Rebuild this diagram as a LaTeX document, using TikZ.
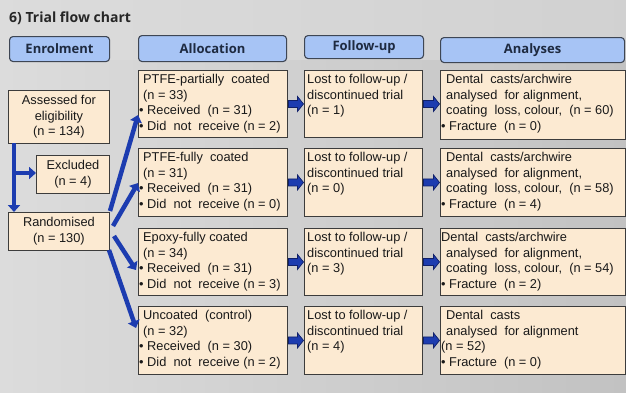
\documentclass[tikz,border=0pt]{standalone}
\usepackage{fontspec}
\setmainfont{Liberation Sans}
\newfontfamily\headfont{Open Sans}
\usetikzlibrary{arrows.meta,calc}
\definecolor{bgA}{HTML}{DCDCDC}
\definecolor{bgB}{HTML}{C2C2C2}
\definecolor{boxfill}{HTML}{FCEAD2}
\definecolor{boxline}{HTML}{3C3C3C}
\definecolor{headfill}{HTML}{A7C4F5}
\definecolor{headline}{HTML}{3E4654}
\definecolor{headtext}{HTML}{1E2A40}
\definecolor{arrblue}{HTML}{1C3CB0}
\definecolor{arrline}{HTML}{10206A}
\definecolor{titletext}{HTML}{262626}
\tikzset{
  hdr/.style={draw=headline, line width=1.1pt, fill=headfill, rounded corners=3.5pt,
    inner sep=0pt, font=\headfont\bfseries\fontsize{13}{15}\selectfont, text=headtext},
  cbox/.style={draw=boxline, line width=0.9pt, fill=boxfill, inner sep=0pt},
  ctext/.style={font=\fontsize{12.8}{15.7}\selectfont, align=left, anchor=north west, inner sep=0pt, text=black!90},
  ccent/.style={font=\fontsize{12.8}{15.7}\selectfont, align=center, inner sep=0pt, text=black!90},
  flow/.style={draw=arrblue, line width=4.5pt, -{Triangle[length=7pt,width=12pt]}},
  barrowp/.style={draw=arrline, fill=arrblue, line width=0.7pt, line join=miter}
}
\newcommand{\bx}[5]{\node[cbox, minimum width=#4pt, minimum height=#5pt, anchor=north west] (#1) at (#2,#3) {};}
% block arrow from east of #1 to west of #2
\newcommand{\blockarr}[2]{%
  \draw[barrowp] let \p1=(#1.east), \p2=(#2.west) in
    (\x1+0.5pt,\y1-3.5pt) -- (\x2-6.5pt,\y1-3.5pt) -- (\x2-6.5pt,\y1-7.5pt) -- (\x2-0.5pt,\y1)
    -- (\x2-6.5pt,\y1+7.5pt) -- (\x2-6.5pt,\y1+3.5pt) -- (\x1+0.5pt,\y1+3.5pt) -- cycle;}
\begin{document}
\begin{tikzpicture}[x=1pt,y=-1pt]
\useasboundingbox (0,0) rectangle (626,392);
\shade[left color=bgA, right color=bgB] (0,0) rectangle (626,392);
\fill[bgA, opacity=0.6] (0,0) rectangle (626,60);
\node[anchor=west, font=\headfont\bfseries\fontsize{14}{16}\selectfont, text=titletext, inner sep=0pt] (title) at (9,18) {6) Trial flow chart};
% headers
\node[hdr, minimum width=100pt, minimum height=25pt, anchor=north west] (h1) at (9,36) {Enrolment};
\node[hdr, minimum width=148pt, minimum height=26pt, anchor=north west] (h2) at (138,35) {Allocation};
\node[hdr, minimum width=119pt, minimum height=23pt, anchor=north west] (h3) at (304,35) {Follow-up};
\node[hdr, minimum width=184pt, minimum height=25pt, anchor=north west] (h4) at (440,37) {Analyses};
% enrolment
\bx{ass}{8}{90}{101}{53}
\node[ccent] (asst) at (ass.center) {Assessed for\\eligibility\\(n = 134)};
\bx{exc}{36}{155}{73}{38}
\node[ccent] (exct) at (exc.center) {Excluded\\(n = 4)};
\bx{ran}{8}{212}{101}{38}
\node[ccent] (rant) at (ran.center) {Randomised\\(n = 130)};
% allocation
\bx{a1}{138}{70}{149}{67}
\bx{a2}{138}{148}{149}{68}
\bx{a3}{138}{228}{149}{67}
\bx{a4}{138}{306}{149}{68}
\node[ctext] (a1t) at (139,74) {\hspace{4pt}PTFE-partially\ \ coated\\\hspace{4pt}(n = 33)\\• Received\ \ (n = 31)\\• Did\ \ not\ \ receive (n = 2)};
\node[ctext] (a2t) at (139,152) {\hspace{4pt}PTFE-fully\ \ coated\\\hspace{4pt}(n = 31)\\• Received\ \ (n = 31)\\• Did\ \ not\ \ receive (n = 0)};
\node[ctext] (a3t) at (139,232) {\hspace{4pt}Epoxy-fully\ coated\\\hspace{4pt}(n = 34)\\• Received\ \ (n = 31)\\• Did\ \ not\ \ receive (n = 3)};
\node[ctext] (a4t) at (139,310) {\hspace{4pt}Uncoated\ \ (control)\\\hspace{4pt}(n = 32)\\• Received\ \ (n = 30)\\• Did\ \ not\ \ receive (n = 2)};
% follow-up
\bx{f1}{304}{70}{118}{67}
\bx{f2}{304}{148}{118}{68}
\bx{f3}{304}{228}{118}{67}
\bx{f4}{304}{306}{118}{68}
\node[ctext] (f1t) at (307,74) {Lost to follow-up /\\discontinued\ trial\\(n = 1)};
\node[ctext] (f2t) at (307,152) {Lost to follow-up /\\discontinued\ trial\\(n = 0)};
\node[ctext] (f3t) at (307,232) {Lost to follow-up /\\discontinued\ trial\\(n = 3)};
\node[ctext] (f4t) at (307,310) {Lost to follow-up /\\discontinued\ trial\\(n = 4)};
% analyses
\bx{n1}{440}{70}{185}{69}
\bx{n2}{440}{148}{185}{68}
\bx{n3}{440}{228}{185}{67}
\bx{n4}{440}{306}{185}{68}
\node[ctext] (n1t) at (441,74) {\hspace{5pt}Dental\ \ casts/archwire\\\hspace{5pt}analysed\ \ for alignment,\\\hspace{5pt}coating\ \ loss, colour,\ \ (n = 60)\\• Fracture\ \ (n = 0)};
\node[ctext] (n2t) at (441,152) {\hspace{5pt}Dental\ \ casts/archwire\\\hspace{5pt}analysed\ \ for alignment,\\\hspace{5pt}coating\ \ loss, colour,\ \ (n = 58)\\• Fracture\ \ (n = 4)};
\node[ctext] (n3t) at (441,232) {Dental\ \ casts/archwire\\\hspace{5pt}analysed\ \ for alignment,\\\hspace{5pt}coating\ \ loss, colour,\ \ (n = 54)\\• Fracture\ \ (n = 2)};
\node[ctext] (n4t) at (441,310) {\hspace{5pt}Dental\ \ casts\\\hspace{5pt}analysed\ \ for alignment\\(n = 52)\\• Fracture\ \ (n = 0)};
% enrolment arrows
\coordinate (vtop) at (14,143);
\coordinate (vbr) at (14,173);
\draw[flow] (vtop) -- (ran.north -| vtop);
\draw[flow] (vbr) -- (exc.west |- vbr);
% randomised to allocation
\coordinate (r1) at (110,211);
\coordinate (r2) at (113,226);
\coordinate (r3) at (114,236);
\coordinate (r4) at (109,250);
\draw[flow] (r1) -- (a1.west |- 0,115);
\draw[flow] (r2) -- (a2.west |- 0,183);
\draw[flow] (r3) -- ($(a3.west |- 0,270)+(-2,0)$);
\draw[flow] (r4) -- ($(a4.west |- 0,328)+(-2,0)$);
% block arrows
\foreach \i in {1,2,3,4}{
  \blockarr{a\i}{f\i}
  \blockarr{f\i}{n\i}
}
\end{tikzpicture}
\end{document}
